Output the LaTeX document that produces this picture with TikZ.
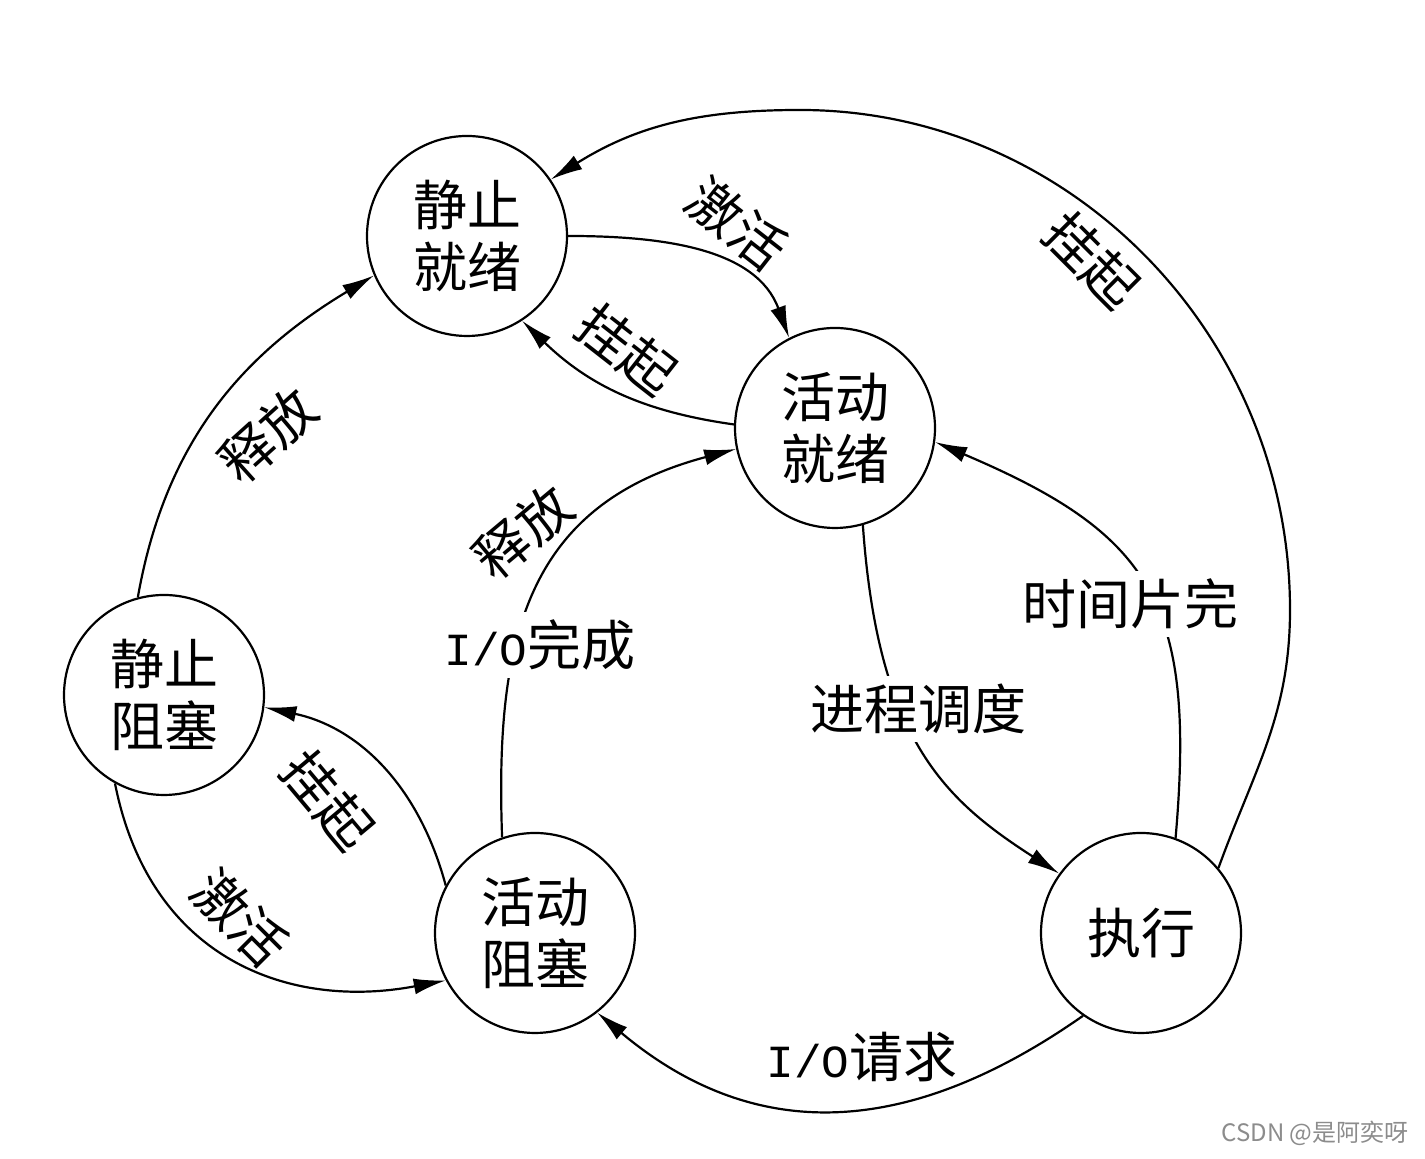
\documentclass[tikz,border=0pt]{standalone}
\usepackage{fontspec}
\setmainfont{Noto Sans CJK SC}
\newfontfamily\latinmono{Liberation Mono}
\usetikzlibrary{arrows.meta}
\begin{document}
\begin{tikzpicture}[x=0.5pt,y=0.5pt,
  state/.style={circle, draw, line width=1.1pt, minimum size=100pt, inner sep=0pt, align=center, font=\fontsize{27}{31}\selectfont},
  conn/.style={line width=1.1pt, -{Latex[length=16pt,width=8pt]}},
  lbl/.style={font=\fontsize{27}{31}\selectfont, inner sep=1pt},
  lblbox/.style={lbl, fill=white, inner sep=4pt},
  wmark/.style={font=\fontsize{12}{14}\selectfont, text=black!45}]
\useasboundingbox[fill=white] (0,0) rectangle (1425,1159);
% states
\node[state] (A) at (467,923) {静止\\就绪};
\node[state] (B) at (835,731) {活动\\就绪};
\node[state] (C) at (164,464) {静止\\阻塞};
\node[state] (D) at (535,226) {活动\\阻塞};
\node[state] (E) at (1141,226) {执行};
% helper points of the outer arc
\coordinate (p1) at (1290,549);
\coordinate (p2) at (800,1049);
% connectors
\draw[conn] (E.40) to[out=70,in=-90] (p1) .. controls (1290,824) and (1070,1049) .. (p2) to[out=180,in=32] (A.34);
\draw[conn] (A.0) to[out=0,in=110] (B.117);
\draw[conn] (B.178) to[out=172,in=-44] (A.303);
\draw[conn] (C.105) to[out=80,in=211] (A.203);
\draw[conn] (D.109) .. controls (495,519) and (525,654) .. (B.192);
\draw[conn] (B.286) .. controls (878,419) and (945,359) .. (E.144);
\draw[conn] (E.70) to[out=85,in=-23,looseness=1.3] (B.352);
\draw[conn] (E.235) to[out=215,in=-40,looseness=1.1] (D.308);
\draw[conn] (D.152) to[out=105,in=-12] (C.353);
\draw[conn] (C.241) .. controls (150,199) and (290,149) .. (D.208);
% labels
\node[lbl, rotate=-45] (l1) at (1092,899) {挂起};
\node[lbl, rotate=-38] (l2) at (737,935) {激活};
\node[lbl, rotate=-38] (l3) at (627,809) {挂起};
\node[lbl, rotate=42] (l4) at (268,724) {释放};
\node[lbl, rotate=40] (l5) at (523,627) {释放};
\node[lblbox] (l6) at (540,514) {{\latinmono\fontsize{23}{27}\selectfont I/O}完成};
\node[lblbox] (l7) at (918,450) {进程调度};
\node[lblbox] (l8) at (1130,555) {时间片完};
\node[lbl] (l9) at (862,102) {{\latinmono\fontsize{23}{27}\selectfont I/O}请求};
\node[lbl, rotate=-50] (l10) at (328,359) {挂起};
\node[lbl, rotate=-45] (l11) at (240,241) {激活};
\node[wmark] (wm) at (1315,26) {CSDN @是阿奕呀};
\end{tikzpicture}
\end{document}
